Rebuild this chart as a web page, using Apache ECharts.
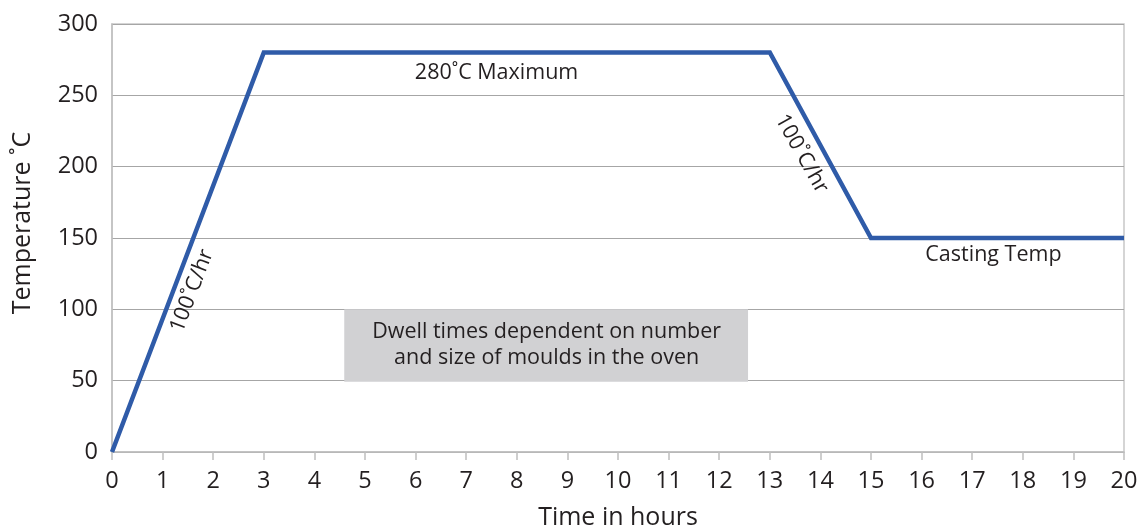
<!DOCTYPE html>
<html><head><meta charset="utf-8">
<script src="https://cdn.jsdelivr.net/npm/echarts@6/dist/echarts.min.js"></script>
<style>html,body{margin:0;padding:0;background:#fff}#c{width:1141px;height:529px}</style>
</head><body><div id="c"></div>
<script>
const hours = [0, 3, 13, 15, 20];
const temps = [0, 280, 280, 150, 150];
const xTicks = [0,1,2,3,4,5,6,7,8,9,10,11,12,13,14,15,16,17,18,19,20];
const yTicks = [0,50,100,150,200,250,300];
const dwellBox = [[4.59, 49.3], [12.57, 100]];
const notes = [
  {text: '280˚C Maximum', x: 7.6, y: 265.5, rot: 0},
  {text: '100˚C/hr', x: 1.58, y: 113, rot: 69},
  {text: '100˚C/hr', x: 13.63, y: 209, rot: -60.5},
  {text: 'Casting Temp', x: 17.42, y: 138, rot: 0},
  {text: 'Dwell times dependent on number\nand size of moulds in the oven', x: 8.59, y: 75, rot: 0}
];
const FONT = '"Open Sans", "Noto Sans", sans-serif';
const chart = echarts.init(document.getElementById('c'));
const option = {
  animation: false,
  grid: {left: 112, right: 17, top: 24, bottom: 77, containLabel: false, outerBoundsMode: 'none',
         show: true, borderColor: '#c8c8c8', borderWidth: 1.5, backgroundColor: 'transparent'},
  xAxis: {
    type: 'value', min: 0, max: 20, interval: 1,
    name: 'Time in hours', nameLocation: 'middle', nameGap: 53,
    nameTextStyle: {fontFamily: FONT, fontSize: 25, color: '#231f20'},
    axisLine: {show: true, lineStyle: {color: '#bfbfbf', width: 1.5}},
    axisTick: {show: true, length: 8, lineStyle: {color: '#bfbfbf', width: 1.5}},
    axisLabel: {fontFamily: FONT, fontSize: 23.5, color: '#231f20', margin: 17},
    splitLine: {show: false}
  },
  yAxis: {
    type: 'value', min: 0, max: 300, interval: 50,
    name: 'Temperature ˚C', nameLocation: 'middle', nameGap: 77,
    nameTextStyle: {fontFamily: FONT, fontSize: 25, color: '#231f20', padding: [0, 0, 0, 30]},
    axisLine: {show: true, lineStyle: {color: '#bfbfbf', width: 1.5}},
    axisTick: {show: false},
    axisLabel: {fontFamily: FONT, fontSize: 23.5, color: '#231f20', margin: 14},
    splitLine: {show: true, lineStyle: {color: '#a6a6a6', width: 1}}
  },
  series: [{
    type: 'line',
    data: hours.map((h, i) => [h, temps[i]]),
    symbol: 'none',
    lineStyle: {color: '#2f5ba8', width: 4.5, join: 'miter'},
    z: 5,
    markArea: {
      silent: true,
      itemStyle: {color: '#d1d1d3'},
      data: [[{coord: dwellBox[0]}, {coord: dwellBox[1]}]]
    }
  }]
};
chart.setOption(option);
const graphics = notes.map(n => {
  const p = chart.convertToPixel({gridIndex: 0}, [n.x, n.y]);
  return {
    type: 'text', x: p[0], y: p[1], rotation: n.rot * Math.PI / 180, z: 10,
    style: {text: n.text, fontFamily: FONT, fontSize: 21.5, fill: '#231f20',
            align: 'center', verticalAlign: 'middle', lineHeight: 26}
  };
});
chart.setOption({graphic: graphics});
</script>
</body></html>
